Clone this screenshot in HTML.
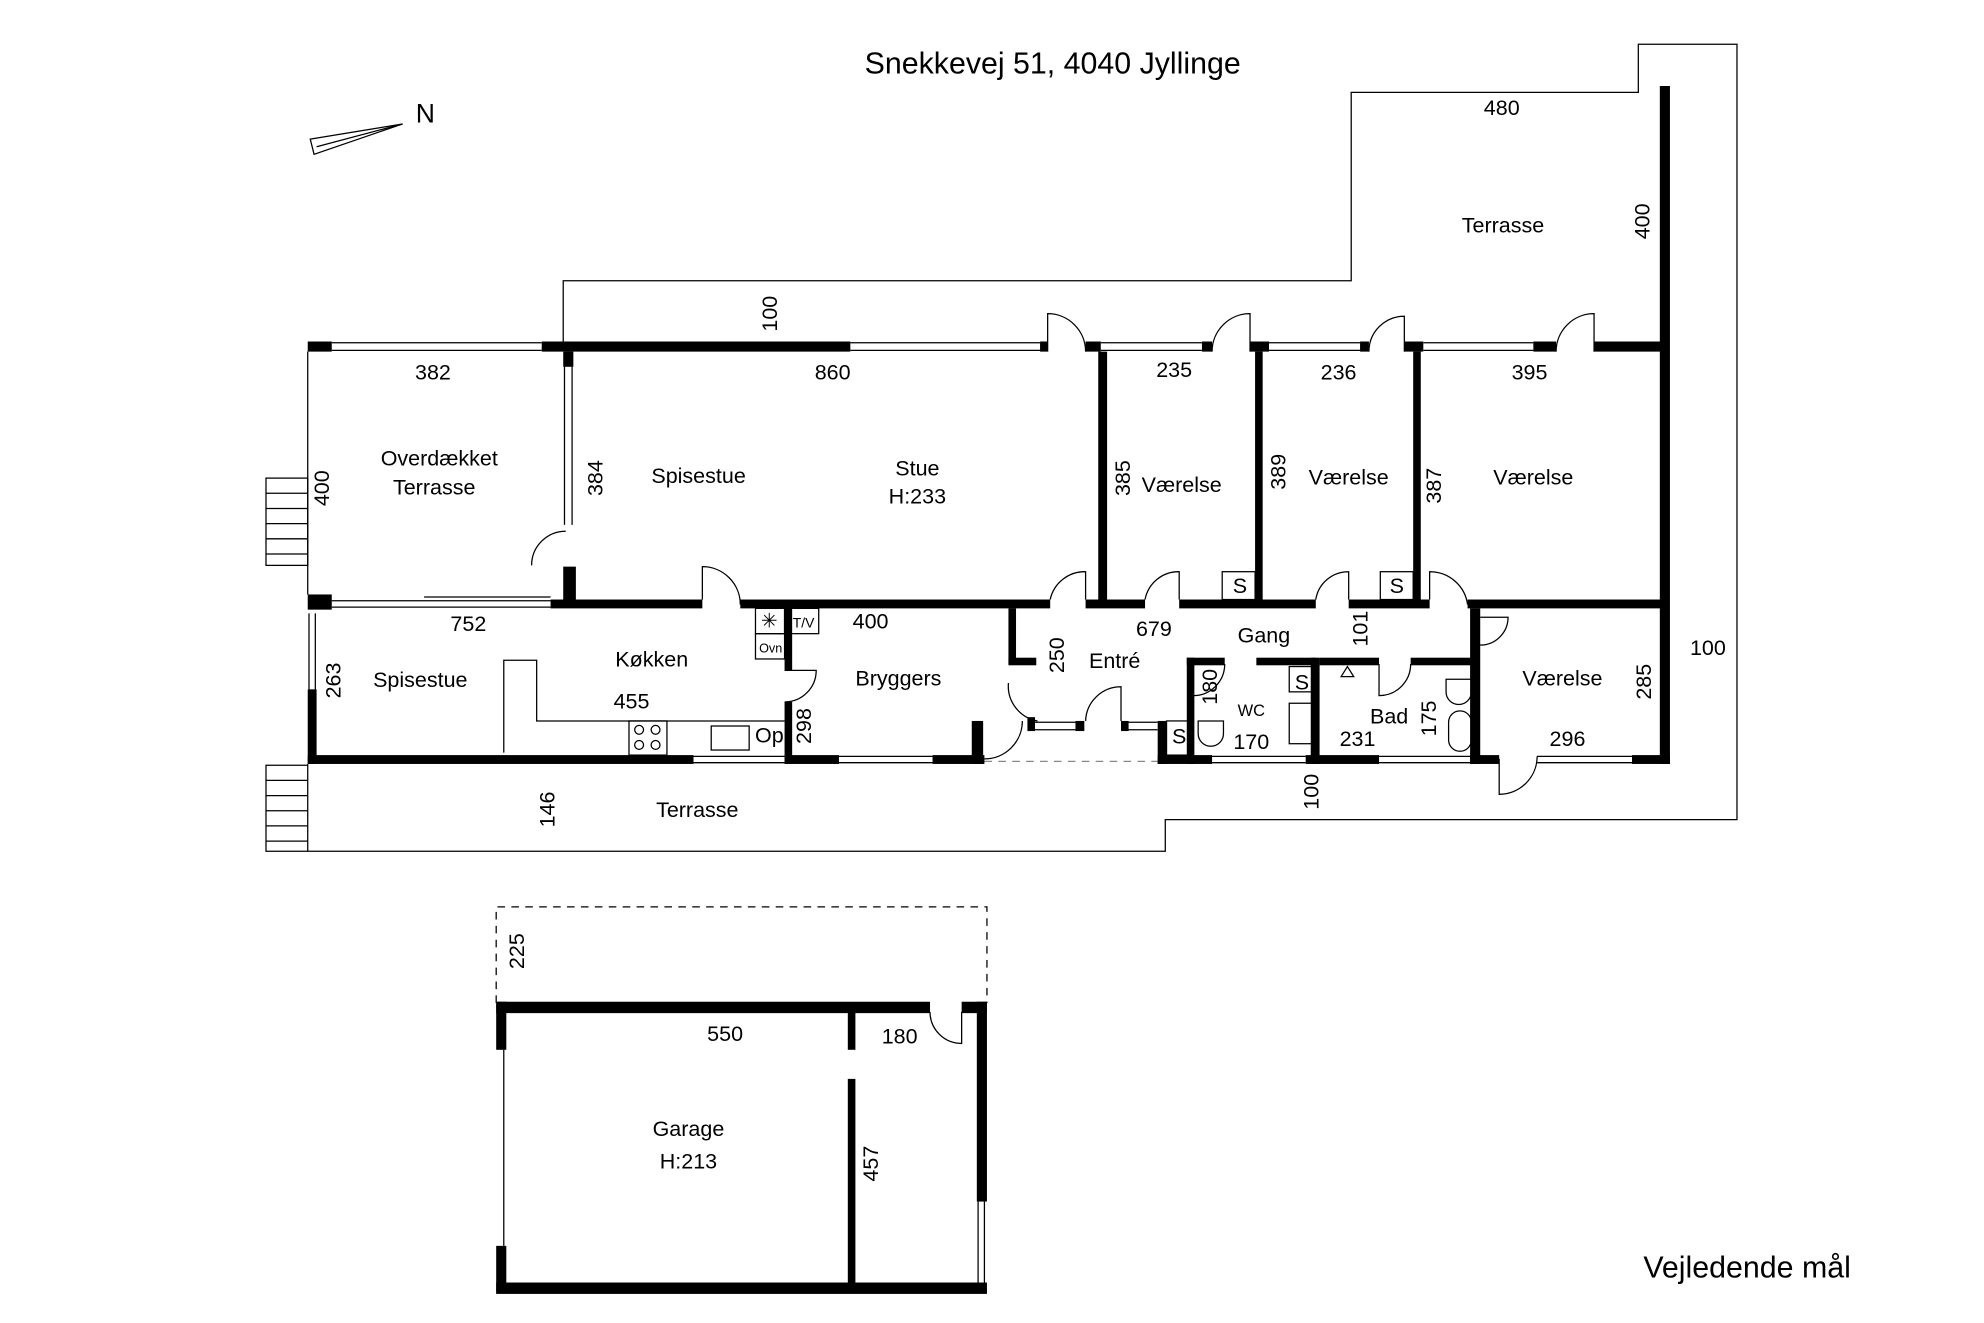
<!DOCTYPE html>
<html><head><meta charset="utf-8"><style>
html,body{margin:0;padding:0;background:#fff;width:1984px;height:1323px;overflow:hidden}
svg text{font-family:"Liberation Sans",sans-serif;font-size:17px;fill:#000}
</style></head><body>
<svg width="1984" height="1323" viewBox="0 0 1568 1046" xmlns="http://www.w3.org/2000/svg">
<g fill="none" stroke="#000" stroke-width="1">
<polyline points="445,270 445,222 1068,222 1068,73 1295,73 1295,35 1373,35 1373,648 921,648 921,673 210,673 210,605 243,605"/>
<rect x="210" y="378" width="33" height="69"/>
<line x1="210" y1="390" x2="243" y2="390"/><line x1="210" y1="402" x2="243" y2="402"/><line x1="210" y1="414" x2="243" y2="414"/><line x1="210" y1="426" x2="243" y2="426"/><line x1="210" y1="438" x2="243" y2="438"/>
<line x1="210" y1="617" x2="243" y2="617"/><line x1="210" y1="629" x2="243" y2="629"/><line x1="210" y1="641" x2="243" y2="641"/><line x1="210" y1="653" x2="243" y2="653"/><line x1="210" y1="665" x2="243" y2="665"/><line x1="243" y1="604" x2="243" y2="673"/>
<line x1="243" y1="278" x2="243" y2="470"/>
<g>
<path d="M262,271H428M262,277H428M672,271H822M672,277H822M870,271H950M870,277H950M1003,271H1075M1003,277H1075M1125,271H1212M1125,277H1212"/>
<path d="M446,290V415M452,290V415M244,485V545M249,485V545M262,475H435M262,480H435M335,472H435"/>
<path d="M548,598H620M548,603H620M663,598H737M663,603H737M958,598H1032M958,603H1032M1090,598H1162M1090,603H1162M1215,598H1290M1215,603H1290M815,571H855M815,577H855M890,571H915M890,577H915"/>
<path d="M398,830V985M773,950V1018M778,950V1018"/>
</g>
<path d="M828,278V248A30,30 0 0 1 858,278"/>
<path d="M958,278A30,30 0 0 1 988,248V278"/>
<path d="M1082,278A28,28 0 0 1 1110,250V278"/>
<path d="M1230,278A30,30 0 0 1 1260,248V278"/>
<path d="M420,447A27,27 0 0 1 447,420"/>
<path d="M555,474V448A30,30 0 0 1 585,478"/>
<path d="M830,474A28,28 0 0 1 858,452V474"/>
<path d="M905,474A27,27 0 0 1 932,452V474"/>
<path d="M1040,474A26,26 0 0 1 1066,452V474"/>
<path d="M1130,474V452A30,30 0 0 1 1160,478"/>
<path d="M1170,488H1192A22,22 0 0 1 1170,510"/>
<path d="M620,555A25,25 0 0 0 645,530H620"/>
<path d="M797,540A28,28 0 0 0 820,570"/>
<path d="M858,570A28,28 0 0 1 886,543V570"/>
<path d="M778,600A30,30 0 0 0 808,570"/>
<path d="M968,525A25,25 0 0 1 943,550"/>
<path d="M1090,525V550A25,25 0 0 0 1115,525"/>
<path d="M1185,600V628A30,30 0 0 0 1215,598"/>
<path d="M735,800A25,25 0 0 0 760,825V800"/>
<polyline points="398,595 398,522 424,522 424,570 620,570"/>
<rect x="497" y="570" width="30" height="27"/><circle cx="505" cy="577" r="3.5"/><circle cx="518" cy="577" r="3.5"/><circle cx="505" cy="589" r="3.5"/><circle cx="518" cy="589" r="3.5"/>
<rect x="562" y="574" width="30" height="19"/>
<rect x="597" y="481" width="23" height="20"/><rect x="597" y="501" width="23" height="20"/><rect x="620" y="481" width="27" height="20"/>
<rect x="966" y="452" width="26" height="22"/><rect x="1091" y="452" width="26" height="22"/>
<rect x="922" y="570" width="20" height="27"/><rect x="1019" y="527" width="21" height="20"/><rect x="1019" y="556" width="20" height="32"/>
<path d="M947,570h20v10a10,10 0 0 1 -20,0z"/><path d="M1143,537h20v10a10,10 0 0 1 -20,0z"/>
<rect x="1145" y="562" width="18" height="32" rx="9"/>
<path d="M1060,535l5,-8l5,8z"/>
<path d="M392,793V717H780V793" stroke-dasharray="6,5"/>
<path d="M778,602H915" stroke-dasharray="6,5" stroke="#888"/>
</g>
<g fill="#000">
<rect x="243" y="270" width="19" height="8"/><rect x="428" y="270" width="244" height="8"/><rect x="822" y="270" width="6" height="8"/>
<rect x="858" y="270" width="12" height="8"/><rect x="950" y="270" width="8" height="8"/><rect x="988" y="270" width="15" height="8"/><rect x="1075" y="270" width="7" height="8"/><rect x="1110" y="270" width="15" height="8"/><rect x="1212" y="270" width="18" height="8"/><rect x="1260" y="270" width="53" height="8"/>
<rect x="1312" y="68" width="8" height="536"/>
<rect x="445" y="278" width="8" height="12"/><rect x="445" y="448" width="10" height="30"/>
<rect x="243" y="470" width="19" height="12"/><rect x="243" y="545" width="7" height="59"/>
<rect x="435" y="474" width="120" height="7"/><rect x="585" y="474" width="245" height="7"/><rect x="858" y="474" width="47" height="7"/><rect x="932" y="474" width="108" height="7"/><rect x="1066" y="474" width="64" height="7"/><rect x="1160" y="474" width="153" height="7"/>
<rect x="868" y="278" width="7" height="200"/><rect x="992" y="278" width="6" height="200"/><rect x="1117" y="278" width="6" height="200"/>
<rect x="243" y="597" width="305" height="7"/><rect x="620" y="597" width="43" height="7"/><rect x="737" y="597" width="41" height="7"/><rect x="768" y="570" width="9" height="34"/>
<rect x="915" y="597" width="43" height="7"/><rect x="1032" y="597" width="58" height="7"/><rect x="1162" y="597" width="23" height="7"/><rect x="1290" y="597" width="30" height="7"/>
<rect x="620" y="481" width="6" height="49"/><rect x="620" y="555" width="6" height="49"/>
<rect x="797" y="481" width="6" height="44"/><rect x="797" y="520" width="22" height="6"/><rect x="812" y="567" width="6" height="11"/><rect x="850" y="570" width="7" height="8"/><rect x="886" y="570" width="6" height="8"/>
<rect x="915" y="570" width="7" height="34"/>
<rect x="938" y="520" width="6" height="84"/><rect x="938" y="520" width="30" height="6"/><rect x="993" y="520" width="47" height="6"/>
<rect x="1036" y="520" width="7" height="84"/><rect x="1043" y="520" width="47" height="6"/><rect x="1115" y="520" width="53" height="6"/>
<rect x="1162" y="481" width="8" height="123"/>
<rect x="392" y="792" width="343" height="9"/><rect x="760" y="792" width="20" height="9"/>
<rect x="392" y="1014" width="388" height="9"/>
<rect x="392" y="792" width="8" height="38"/><rect x="392" y="985" width="8" height="37"/>
<rect x="772" y="792" width="8" height="158"/><rect x="772" y="1018" width="8" height="4"/>
<rect x="670" y="800" width="6" height="30"/><rect x="670" y="853" width="6" height="165"/>
</g>
<polygon points="245,110 318,98 248,122" fill="#fff" stroke="#000"/>
<path d="M250,116L318,98" stroke="#000"/>
<g text-anchor="middle">
<text x="832" y="58" style="font-size:24px">Snekkevej 51, 4040 Jyllinge</text>
<text x="336" y="97" style="font-size:21px">N</text>
<text x="1187" y="91">480</text><text x="1188" y="184">Terrasse</text>
<text x="342" y="300">382</text><text x="658" y="300">860</text><text x="928" y="298">235</text><text x="1058" y="300">236</text><text x="1209" y="300">395</text>
<text x="347" y="368">Overdækket</text><text x="343" y="391">Terrasse</text>
<text x="552" y="382">Spisestue</text><text x="725" y="376">Stue</text><text x="725" y="398">H:233</text>
<text x="934" y="389">Værelse</text><text x="1066" y="383">Værelse</text><text x="1212" y="383">Værelse</text>
<text x="980" y="469">S</text><text x="1104" y="469">S</text>
<text x="370" y="499">752</text><text x="688" y="497">400</text><text x="912" y="503">679</text><text x="999" y="508">Gang</text>
<text x="515" y="527">Køkken</text><text x="332" y="543">Spisestue</text><text x="710" y="542">Bryggers</text><text x="881" y="528">Entré</text>
<text x="1235" y="542">Værelse</text><text x="1350" y="518">100</text>
<text x="499" y="560">455</text><text x="608" y="587">Op</text>
<text x="989" y="566" style="font-size:13px">WC</text><text x="989" y="592">170</text><text x="1098" y="572">Bad</text><text x="1073" y="590">231</text><text x="1239" y="590">296</text>
<text x="932" y="588">S</text><text x="1029" y="545">S</text>
<text x="551" y="646">Terrasse</text>
<text x="573" y="823">550</text><text x="711" y="825">180</text>
<text x="544" y="898">Garage</text><text x="544" y="924">H:213</text>
<text x="1381" y="1010" style="font-size:24px">Vejledende mål</text>
<text x="608" y="496" style="font-size:16px">✳</text><text x="635" y="496" style="font-size:11px">T/V</text><text x="609" y="516" style="font-size:10px">Ovn</text>
</g>
<g text-anchor="middle">
<text transform="translate(614,248) rotate(-90)">100</text>
<text transform="translate(1304,175) rotate(-90)">400</text>
<text transform="translate(260,386) rotate(-90)">400</text>
<text transform="translate(476,378) rotate(-90)">384</text>
<text transform="translate(893,378) rotate(-90)">385</text>
<text transform="translate(1016,373) rotate(-90)">389</text>
<text transform="translate(1139,384) rotate(-90)">387</text>
<text transform="translate(1081,497) rotate(-90)">101</text>
<text transform="translate(841,518) rotate(-90)">250</text>
<text transform="translate(269,538) rotate(-90)">263</text>
<text transform="translate(641,574) rotate(-90)">298</text>
<text transform="translate(962,543) rotate(-90)">180</text>
<text transform="translate(1135,568) rotate(-90)">175</text>
<text transform="translate(1305,539) rotate(-90)">285</text>
<text transform="translate(1042,626) rotate(-90)">100</text>
<text transform="translate(438,640) rotate(-90)">146</text>
<text transform="translate(414,752) rotate(-90)">225</text>
<text transform="translate(694,920) rotate(-90)">457</text>
</g>
</svg>
</body></html>
